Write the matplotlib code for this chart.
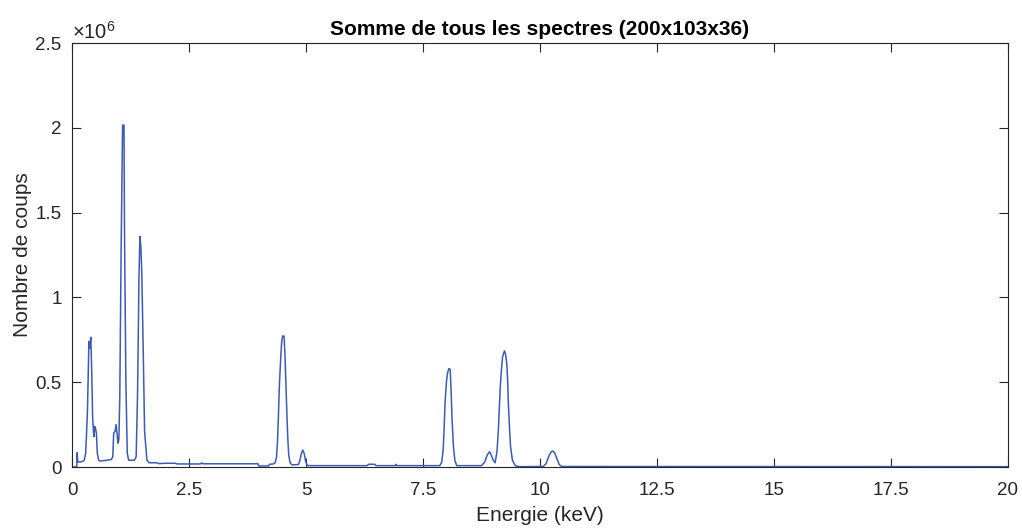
import numpy as np
import matplotlib
matplotlib.use("Agg")
import matplotlib.pyplot as plt
from matplotlib.ticker import FuncFormatter

energie = [0.00, 0.10, 0.11, 0.12, 0.20, 0.26, 0.29, 0.31, 0.33, 0.36, 0.38, 0.40,
           0.42, 0.44, 0.46, 0.47, 0.48, 0.50, 0.52, 0.54, 0.57, 0.60, 0.75, 0.84,
           0.87, 0.89, 0.92, 0.94, 0.96, 0.98, 1.00, 1.02, 1.05, 1.08, 1.11, 1.12,
           1.15, 1.18, 1.21, 1.33, 1.37, 1.40, 1.43, 1.45, 1.47, 1.49, 1.52, 1.55,
           1.60, 1.65, 1.81, 1.85, 1.99, 2.20, 2.25, 2.74, 2.77, 2.80, 3.97, 3.99,
           4.20, 4.22, 4.30, 4.34, 4.37, 4.39, 4.41, 4.43, 4.46, 4.48, 4.50, 4.53,
           4.55, 4.57, 4.59, 4.61, 4.63, 4.66, 4.70, 4.84, 4.87, 4.90, 4.93, 4.96,
           4.99, 5.02, 5.05, 6.31, 6.33, 6.47, 6.49, 6.91, 6.92, 6.94, 7.86, 7.90,
           7.93, 7.95, 7.97, 8.00, 8.02, 8.05, 8.08, 8.10, 8.12, 8.15, 8.18, 8.22,
           8.75, 8.82, 8.87, 8.92, 8.96, 9.00, 9.04, 9.08, 9.11, 9.13, 9.15, 9.18,
           9.20, 9.24, 9.26, 9.29, 9.31, 9.32, 9.35, 9.37, 9.41, 9.47, 9.55, 10.07,
           10.13, 10.19, 10.24, 10.27, 10.31, 10.36, 10.41, 10.46, 20.00]
coups = [0.000, 0.000, 0.084, 0.030, 0.030, 0.040, 0.080, 0.200, 0.336, 0.740, 0.700, 0.765,
         0.570, 0.290, 0.200, 0.180, 0.240, 0.230, 0.200, 0.080, 0.040, 0.035, 0.040, 0.045,
         0.060, 0.200, 0.210, 0.250, 0.200, 0.140, 0.160, 0.410, 1.320, 2.016, 2.016, 1.420,
         0.500, 0.080, 0.040, 0.040, 0.060, 0.440, 1.120, 1.360, 1.300, 1.150, 0.700, 0.210,
         0.040, 0.025, 0.025, 0.020, 0.022, 0.022, 0.018, 0.018, 0.024, 0.019, 0.019, 0.006,
         0.006, 0.016, 0.018, 0.025, 0.060, 0.150, 0.300, 0.480, 0.650, 0.740, 0.772, 0.772,
         0.660, 0.480, 0.320, 0.170, 0.070, 0.025, 0.012, 0.015, 0.040, 0.080, 0.100, 0.080,
         0.035, 0.012, 0.008, 0.008, 0.016, 0.016, 0.008, 0.008, 0.016, 0.008, 0.008, 0.030,
         0.100, 0.220, 0.376, 0.500, 0.550, 0.580, 0.576, 0.450, 0.280, 0.120, 0.040, 0.008,
         0.008, 0.030, 0.070, 0.090, 0.070, 0.040, 0.025, 0.090, 0.220, 0.340, 0.470, 0.590,
         0.650, 0.685, 0.670, 0.610, 0.500, 0.395, 0.220, 0.120, 0.040, 0.008, 0.002, 0.003,
         0.020, 0.065, 0.090, 0.094, 0.085, 0.050, 0.015, 0.003, 0.002]

x_ticks = [0, 2.5, 5, 7.5, 10, 12.5, 15, 17.5, 20]
y_ticks = [0, 0.5e6, 1e6, 1.5e6, 2e6, 2.5e6]

plt.rcParams['font.family'] = ['Liberation Sans', 'DejaVu Sans']
plt.rcParams['mathtext.fontset'] = 'custom'
plt.rcParams['mathtext.rm'] = 'Liberation Sans'
plt.rcParams['mathtext.it'] = 'Liberation Sans:italic'
grey = '#262626'

fig = plt.figure(figsize=(10.22, 5.29), dpi=100)
ax = fig.add_axes([0.0705, 0.1172, 0.9158, 0.8015])

ax.plot(np.array(energie), np.array(coups) * 1e6, color='#3d5bb5', linewidth=1.1)

ax.set_xlim(0, 20)
ax.set_ylim(0, 2.5e6)
ax.set_xticks(x_ticks)
ax.set_yticks(y_ticks)
ax.xaxis.set_major_formatter(FuncFormatter(lambda v, p: '%g' % v))
ax.yaxis.set_major_formatter(FuncFormatter(lambda v, p: '%g' % (v / 1e6)))
ax.tick_params(direction='in', length=6.5, width=0.8, top=True, right=True,
               labelsize=13.5, colors=grey, labelcolor=grey)
ax.tick_params(axis='x', pad=11)
ax.tick_params(axis='y', pad=7.5)
for s in ax.spines.values():
    s.set_color(grey)
    s.set_linewidth(0.8)

# facteur d'echelle façon matlab
ax.text(0.0, 1.0, '×10$^{6}$', transform=ax.transAxes, fontsize=14.5,
        color=grey, ha='left', va='bottom')
ax.set_title('Somme de tous les spectres (200x103x36)', fontsize=15,
             fontweight='bold', color='black', pad=6)
ax.set_xlabel('Energie (keV)', fontsize=15, color=grey, labelpad=5)
ax.set_ylabel('Nombre de coups', fontsize=15, color=grey, labelpad=2.5)

fig.savefig('out.png', dpi=100)
